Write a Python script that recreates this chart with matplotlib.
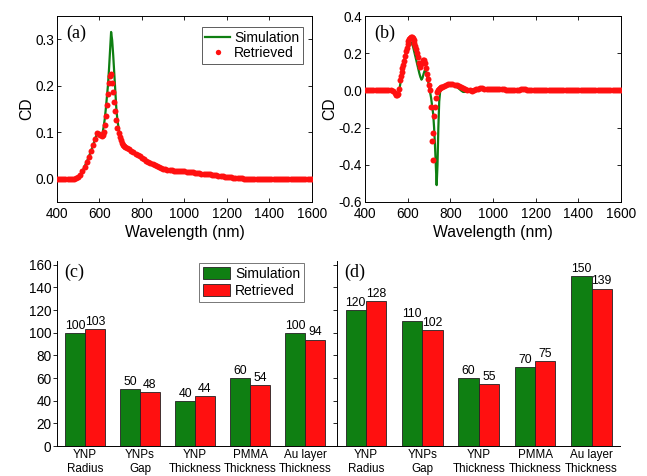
import numpy as np
import matplotlib
matplotlib.use("Agg")
import matplotlib.pyplot as plt
from matplotlib.ticker import MultipleLocator, FormatStrFormatter

plt.rcParams['font.family'] = ['Liberation Sans', 'DejaVu Sans']
plt.rcParams['axes.unicode_minus'] = False

GREEN = '#0f7f12'
RED = '#ff1010'

# ---- (a) CD spectrum, first structure ----
wl_a_head = np.arange(400, 600, 10)
cd_a_head = [0.0, 0.0, 0.0, 0.0, 0.0, 0.0, 0.0, 0.0, 0.0, 0.001,
             0.003, 0.008, 0.016, 0.026, 0.036, 0.047, 0.059, 0.072, 0.086, 0.099]

wl_a_peak = np.arange(600, 720, 5)
cd_a_sim_peak = [0.097, 0.093, 0.092, 0.099, 0.112, 0.128, 0.15, 0.175, 0.2, 0.235,
                 0.275, 0.316, 0.298, 0.265, 0.225, 0.185, 0.148, 0.125, 0.11, 0.097,
                 0.086, 0.079, 0.075, 0.072]
cd_a_ret_peak = [0.097, 0.093, 0.091, 0.094, 0.1, 0.115, 0.135, 0.158, 0.182, 0.205,
                 0.222, 0.226, 0.207, 0.186, 0.165, 0.146, 0.127, 0.11, 0.098, 0.09,
                 0.083, 0.077, 0.073, 0.07]

wl_a_tail = np.arange(720, 1610, 10)
cd_a_tail = [0.069, 0.066, 0.063, 0.06, 0.057, 0.054, 0.051, 0.048, 0.045, 0.042,
             0.039, 0.036, 0.033, 0.031, 0.029, 0.027, 0.025, 0.023, 0.021, 0.02,
             0.019, 0.018, 0.018, 0.017, 0.017, 0.017, 0.016, 0.016, 0.016, 0.015,
             0.015, 0.014, 0.014, 0.013, 0.013, 0.012, 0.011, 0.011, 0.01, 0.009,
             0.009, 0.008, 0.007, 0.007, 0.006, 0.005, 0.005, 0.004, 0.004, 0.003,
             0.003, 0.002, 0.002, 0.001, 0.001, 0.001, 0.0, 0.0, 0.0, 0.0,
             0.0, 0.0, 0.0, 0.0, 0.0, 0.0, 0.0, 0.0, 0.0, 0.0,
             0.0, 0.0, 0.0, 0.0, 0.0, 0.0, 0.0, 0.0, 0.0, 0.0,
             0.0, 0.0, 0.0, 0.0, 0.0, 0.0, 0.0, 0.0, 0.0]

# ---- (b) CD spectrum, second structure ----
wl_b_sim_head = np.arange(400, 540, 10)
cd_b_sim_head = [0.0, 0.0, 0.0, 0.0, 0.0, 0.0, 0.0, 0.0, 0.0, 0.0,
                 0.0, 0.0, -0.001, -0.005]
wl_b_sim_core = [540, 550, 555, 560, 565, 570, 575, 580, 585, 590,
                 595, 600, 605, 610, 615, 620, 625, 630, 635, 640,
                 645, 650, 655, 660, 665, 670, 675, 680, 684, 688,
                 692, 696, 700, 705, 710, 715, 720, 724, 728, 732,
                 736, 740, 744, 748, 752, 756, 760, 770, 780, 790,
                 800, 810, 820, 830, 840, 850, 860, 870, 880, 890,
                 900]
cd_b_sim_core = [-0.012, -0.025, -0.022, -0.005, 0.03, 0.065, 0.1, 0.135, 0.165, 0.195,
                 0.218, 0.235, 0.248, 0.256, 0.258, 0.252, 0.238, 0.215, 0.19, 0.165,
                 0.14, 0.115, 0.092, 0.072, 0.058, 0.068, 0.09, 0.107, 0.11, 0.095,
                 0.075, 0.05, 0.025, -0.005, -0.04, -0.085, -0.13, -0.2, -0.29, -0.4,
                 -0.51, -0.4, -0.2, -0.06, -0.01, 0.004, 0.011, 0.02, 0.027, 0.03,
                 0.03, 0.028, 0.024, 0.018, 0.01, 0.0, -0.008, -0.008, -0.002, 0.003,
                 0.005]
wl_b_sim_tail = np.arange(910, 1610, 10)
cd_b_sim_tail = [0.005, 0.005, 0.004, 0.004, 0.003, 0.003, 0.002, 0.002, 0.001, 0.001,
                 0.0, 0.0, 0.0, 0.0, 0.0, 0.0, 0.0, 0.0, 0.0, 0.0,
                 0.0, 0.0, 0.0, 0.0, 0.0, 0.0, 0.0, 0.0, 0.0, 0.0,
                 0.0, 0.0, 0.0, 0.0, 0.0, 0.0, 0.0, 0.0, 0.0, 0.0,
                 0.0, 0.0, 0.0, 0.0, 0.0, 0.0, 0.0, 0.0, 0.0, 0.0,
                 0.0, 0.0, 0.0, 0.0, 0.0, 0.0, 0.0, 0.0, 0.0, 0.0,
                 0.0, 0.0, 0.0, 0.0, 0.0, 0.0, 0.0, 0.0, 0.0, 0.0]

wl_b_ret_head = np.arange(400, 540, 10)
cd_b_ret_head = [0.003, 0.003, 0.003, 0.003, 0.003, 0.003, 0.003, 0.003, 0.003, 0.003,
                 0.003, 0.002, 0.0, -0.005]
wl_b_ret_core = [540, 545, 550, 555, 560, 564, 568, 572, 576, 580,
                 584, 588, 592, 596, 600, 604, 608, 612, 616, 620,
                 624, 628, 632, 636, 640, 645, 650, 655, 660, 665,
                 670, 675, 680, 685, 690, 695, 700, 705, 709, 713,
                 717, 721, 725, 729, 733, 737, 741, 745, 750, 755,
                 760, 770, 780, 790, 800, 810, 820, 830, 840, 850,
                 860, 870, 880, 890, 900, 910, 920, 930, 940, 950]
cd_b_ret_core = [-0.015, -0.022, -0.025, -0.02, 0.01, 0.056, 0.08, 0.1, 0.12, 0.137,
                 0.16, 0.185, 0.215, 0.23, 0.248, 0.265, 0.276, 0.285, 0.29, 0.29,
                 0.285, 0.272, 0.256, 0.24, 0.222, 0.2, 0.178, 0.15, 0.128, 0.14,
                 0.162, 0.165, 0.15, 0.12, 0.09, 0.06, 0.03, 0.0, -0.09, -0.27,
                 -0.375, -0.23, -0.14, -0.09, -0.04, -0.01, 0.005, 0.01, 0.014, 0.017,
                 0.02, 0.026, 0.03, 0.033, 0.034, 0.033, 0.031, 0.028, 0.025, 0.02,
                 0.014, 0.008, 0.003, 0.0, -0.002, 0.002, 0.007, 0.01, 0.011, 0.011]
wl_b_ret_tail = np.arange(960, 1610, 10)
cd_b_ret_tail = [0.01, 0.01, 0.009, 0.009, 0.009, 0.008, 0.008, 0.008, 0.007, 0.006,
                 0.005, 0.004, 0.003, 0.003, 0.003, 0.004, 0.005, 0.006, 0.006, 0.006,
                 0.005, 0.005, 0.004, 0.004, 0.004, 0.004, 0.004, 0.004, 0.004, 0.004,
                 0.004, 0.004, 0.004, 0.004, 0.004, 0.004, 0.004, 0.004, 0.004, 0.004,
                 0.004, 0.004, 0.004, 0.004, 0.004, 0.004, 0.004, 0.004, 0.004, 0.004,
                 0.004, 0.004, 0.004, 0.004, 0.004, 0.004, 0.004, 0.004, 0.004, 0.004,
                 0.004, 0.004, 0.004, 0.004, 0.004]

# ---- (c), (d) structural parameters ----
params = ['YNP\nRadius', 'YNPs\nGap', 'YNP\nThickness', 'PMMA\nThickness', 'Au layer\nThickness']
sim_c = [100, 50, 40, 60, 100]
ret_c = [103, 48, 44, 54, 94]
sim_d = [120, 110, 60, 70, 150]
ret_d = [128, 102, 55, 75, 139]

wl_a = np.concatenate([wl_a_head, wl_a_peak, wl_a_tail])
cd_a_sim = np.concatenate([cd_a_head, cd_a_sim_peak, cd_a_tail])
cd_a_ret = np.concatenate([cd_a_head, cd_a_ret_peak, cd_a_tail])
wl_b_sim = np.concatenate([wl_b_sim_head, wl_b_sim_core, wl_b_sim_tail])
cd_b_sim = np.concatenate([cd_b_sim_head, cd_b_sim_core, cd_b_sim_tail])
wl_b_ret = np.concatenate([wl_b_ret_head, wl_b_ret_core, wl_b_ret_tail])
cd_b_ret = np.concatenate([cd_b_ret_head, cd_b_ret_core, cd_b_ret_tail])

fig = plt.figure(figsize=(6.47, 4.76), dpi=100)
ax_a = fig.add_axes([0.088, 0.576, 0.394, 0.390])
ax_b = fig.add_axes([0.564, 0.576, 0.396, 0.390])
ax_c = fig.add_axes([0.088, 0.063, 0.433, 0.389])
ax_d = fig.add_axes([0.521, 0.063, 0.437, 0.389])


def spectrum_axes(ax, wl_s, cd_s, wl_r, cd_r, label):
	ax.plot(wl_s, cd_s, color=GREEN, lw=1.6, label='Simulation', zorder=2)
	ax.plot(wl_r, cd_r, 'o', color=RED, ms=4.3, mec='none', label='Retrieved', zorder=3)
	ax.set_xlim(400, 1600)
	ax.xaxis.set_major_locator(MultipleLocator(200))
	ax.yaxis.set_major_formatter(FormatStrFormatter('%.1f'))
	ax.tick_params(direction='in', top=True, right=True, length=3, width=0.6, labelsize=9.8, pad=2)
	ax.tick_params(axis='x', pad=4)
	ax.set_xlabel('Wavelength (nm)', fontsize=11.3, labelpad=2.5)
	ax.set_ylabel('CD', fontsize=11.3, labelpad=1)
	for s in ax.spines.values():
		s.set_linewidth(0.7)
	ax.text(0.035, 0.91, label, transform=ax.transAxes, family='Liberation Serif',
		fontsize=13, va='center', ha='left')


spectrum_axes(ax_a, wl_a, cd_a_sim, wl_a, cd_a_ret, '(a)')
ax_a.set_ylim(-0.05, 0.35)
ax_a.yaxis.set_major_locator(MultipleLocator(0.1))
leg = ax_a.legend(loc='upper right', bbox_to_anchor=(0.965, 0.94), fontsize=10,
	fancybox=False, edgecolor='#333333', handlelength=1.8, handletextpad=0.3,
	borderpad=0.25, labelspacing=0.1, borderaxespad=0, numpoints=1, markerscale=0.9)
leg.get_frame().set_linewidth(0.7)

spectrum_axes(ax_b, wl_b_sim, cd_b_sim, wl_b_ret, cd_b_ret, '(b)')
ax_b.set_ylim(-0.6, 0.4)
ax_b.yaxis.set_major_locator(MultipleLocator(0.2))


def bar_axes(ax, sim, ret, label, show_labels):
	x = np.arange(len(params))
	w = 0.36
	ax.bar(x - w / 2, sim, w, color=GREEN, edgecolor='#222222', lw=0.6, label='Simulation')
	ax.bar(x + w / 2, ret, w, color=RED, edgecolor='#222222', lw=0.6, label='Retrieved')
	for i in range(len(params)):
		ax.text(x[i] - w / 2, sim[i] + 1, str(sim[i]), ha='center', va='bottom', fontsize=8.8)
		ax.text(x[i] + w / 2, ret[i] + 1, str(ret[i]), ha='center', va='bottom', fontsize=8.8)
	ax.set_ylim(0, 163.5)
	ax.yaxis.set_major_locator(MultipleLocator(20))
	ax.set_xticks(x)
	ax.set_xticklabels(params, fontsize=8.4, linespacing=1.3)
	ax.tick_params(axis='x', length=0, pad=2)
	ax.tick_params(axis='y', direction='out', length=3, width=0.6, labelsize=9.8, pad=1,
		labelleft=show_labels)
	ax.spines['top'].set_visible(False)
	ax.spines['right'].set_visible(False)
	ax.spines['left'].set_linewidth(0.7)
	ax.spines['bottom'].set_linewidth(0.7)
	ax.text(0.025, 0.94, label, transform=ax.transAxes, family='Liberation Serif',
		fontsize=13, va='center', ha='left')


bar_axes(ax_c, sim_c, ret_c, '(c)', True)
ax_c.set_xlim(-0.51, 4.58)
leg = ax_c.legend(loc='upper left', bbox_to_anchor=(0.507, 0.99), fontsize=10,
	fancybox=False, edgecolor='#555555', handlelength=1.9, handleheight=0.9,
	handletextpad=0.4, borderpad=0.3, labelspacing=0.2, borderaxespad=0)
leg.get_frame().set_linewidth(0.7)

bar_axes(ax_d, sim_d, ret_d, '(d)', False)
ax_d.set_xlim(-0.51, 4.5)

fig.savefig('out.png', dpi=100)
